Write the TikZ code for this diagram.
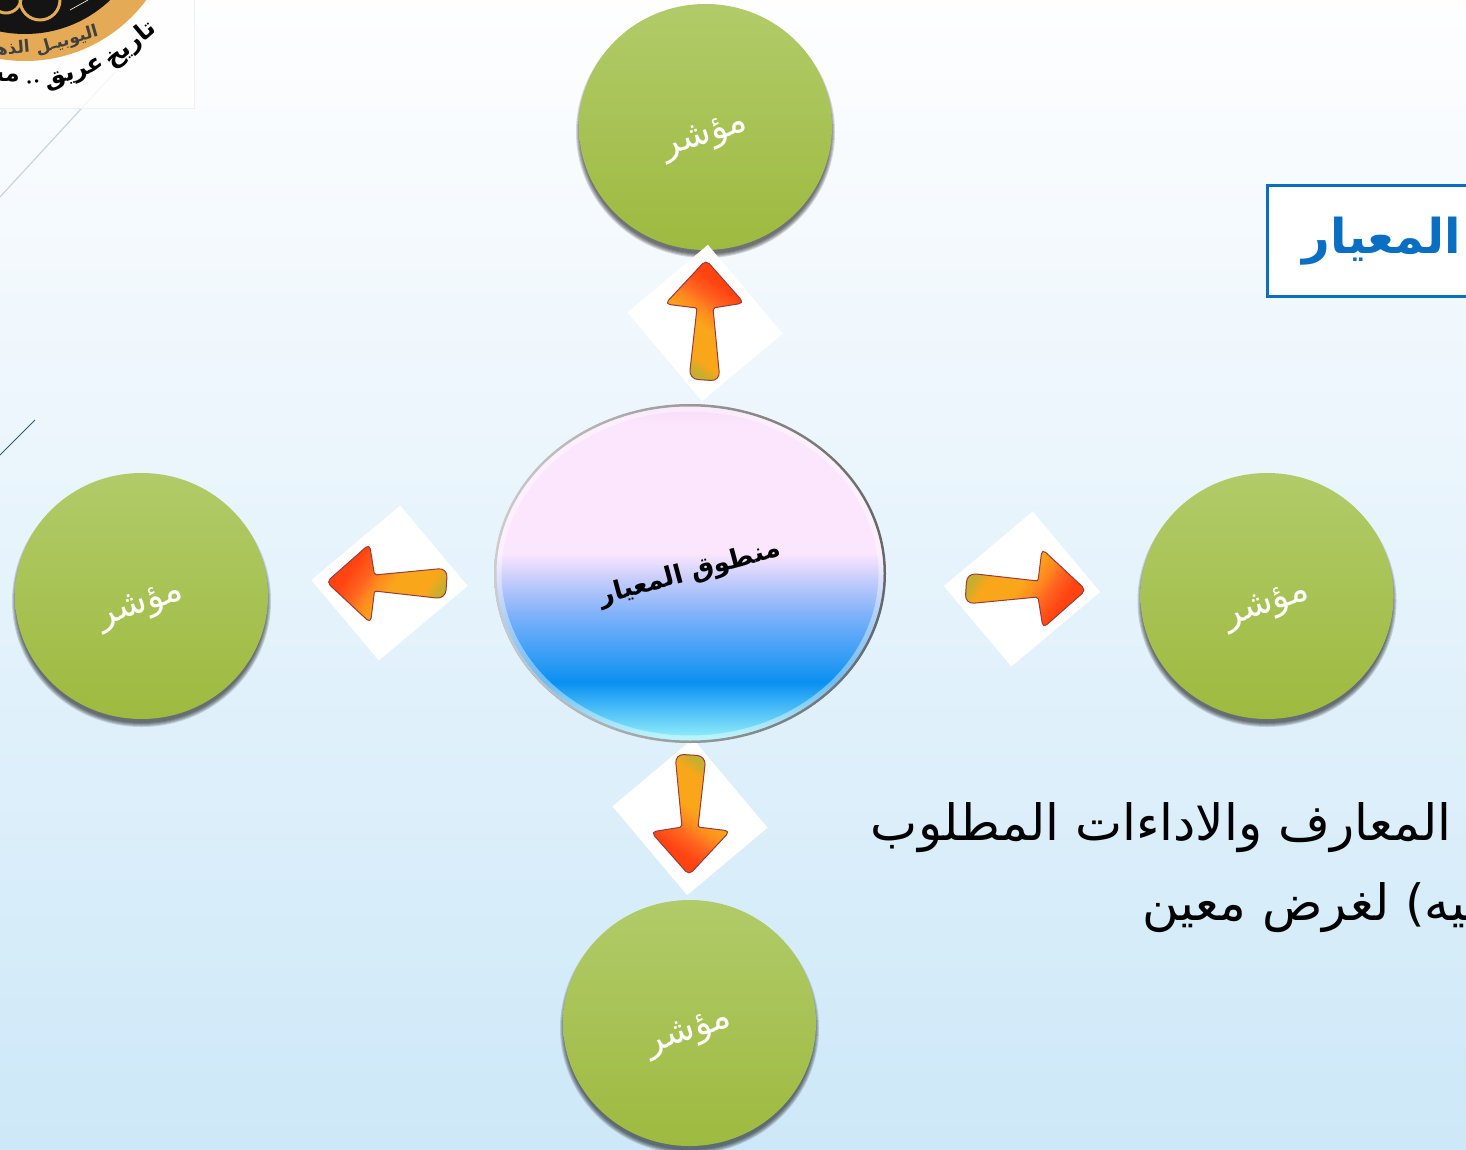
\documentclass[tikz,border=0pt]{standalone}
\usepackage{fontspec}
\usepackage{graphicx}
\usetikzlibrary{shapes.geometric}
\TeXXeTstate=1
\newfontfamily\arabicfont[Script=Arabic]{DejaVu Sans}
\newcommand{\ar}[1]{\arabicfont\beginR #1\endR}
\newcommand{\slanted}[2]{\raisebox{-#1pt}[0pt][0pt]{\rotatebox{18}{\ar{#2}}}}

\definecolor{pagetop}{HTML}{FEFEFF}
\definecolor{pagebottom}{HTML}{CDE8F8}
\definecolor{greentop}{HTML}{B1CB69}
\definecolor{greenbottom}{HTML}{9EBA3F}
\definecolor{titleblue}{HTML}{0A6FC2}
\definecolor{logogold}{HTML}{E5AA56}
\definecolor{arrowedge}{HTML}{9A3B3B}
\definecolor{lightline}{HTML}{C8D4E2}
\definecolor{darkline}{HTML}{2F5A8A}
\definecolor{bubA}{HTML}{8DEBFB}
\definecolor{bubB}{HTML}{0A90F2}
\definecolor{bubC}{HTML}{7FB2FA}
\definecolor{bubD}{HTML}{C4CCFB}
\definecolor{bubE}{HTML}{FCE6FD}
\definecolor{bubF}{HTML}{F4DCF4}
\definecolor{flameA}{HTML}{C6AE2E}
\definecolor{flameB}{HTML}{FAA61A}
\definecolor{flameC}{HTML}{FF8A1E}
\definecolor{flameD}{HTML}{FF6420}
\definecolor{flameE}{HTML}{FF4412}

\pgfdeclareverticalshading{bubble}{100bp}{
  color(0bp)=(bubA);
  color(26bp)=(bubA);
  color(34bp)=(bubB);
  color(44bp)=(bubC);
  color(49bp)=(bubD);
  color(53bp)=(bubE);
  color(72bp)=(bubE);
  color(75bp)=(bubF);
  color(100bp)=(bubF)}
\pgfdeclareverticalshading{flame}{100bp}{
  color(0bp)=(flameA);
  color(27bp)=(flameA);
  color(33bp)=(flameB);
  color(47bp)=(flameB);
  color(54bp)=(flameC);
  color(60bp)=(flameD);
  color(68bp)=(flameE);
  color(100bp)=(flameE)}

\tikzset{
  indicator/.style={ellipse,minimum width=253pt,minimum height=246pt,inner sep=0pt,
    top color=greentop,bottom color=greenbottom,text=white,font=\fontsize{36}{36}\selectfont},
  arrowbox/.style={rectangle,fill=white,minimum width=116pt,minimum height=105pt,inner sep=0pt},
  blockarrow/.style={draw=arrowedge,line width=1pt,shading=flame},
  logotext/.style={inner sep=0pt,font=\fontsize{#1}{#1}\selectfont\bfseries}
}

\begin{document}
\begin{tikzpicture}[x=1pt,y=-1pt]
  \path[use as bounding box,clip] (0,0) rectangle (1466,1150);

  % Page background
  \path[top color=pagetop,bottom color=pagebottom] (0,0) rectangle (1466,1150);

  % Thin lines on the left
  \coordinate (lightA) at (115,72);
  \coordinate (lightB) at (0,197);
  \coordinate (darkA) at (35,420);
  \coordinate (darkB) at (0,455);
  \draw[lightline,line width=1.2pt] (lightA) -- (lightB);
  \draw[darkline,line width=0.8pt] (darkA) -- (darkB);

  % Logo
  \fill[white,opacity=0.8] (0,0) rectangle (194,108);
  \draw[black!6,line width=0.5pt] (194,0) -- (194,108) -- (0,108);
  \fill[logogold] (25,-90) circle (151);
  \fill[black!92] (25,-90) circle (124);
  \draw[logogold,line width=3pt] (40,0) circle (20);
  \draw[logogold,line width=3pt] (6,-2) circle (15);
  \draw[white!70!logogold,line width=0.7pt] (70,10) -- (88,0);
  \node[logotext=17,text=black!75,rotate=16] (jubilee) at (67,41) {\ar{اليوبيـل}};
  \node[logotext=17,text=black!75,rotate=5,anchor=east] (golden) at (30,48) {\ar{الذهبي}};
  \node[logotext=24,rotate=40] (tarikh) at (131,45) {\ar{تاريخ}};
  \node[logotext=24,rotate=18] (ariq) at (75,75) {\ar{عريق}};
  \node[logotext=24,rotate=5] (dots) at (33,82) {..};
  \node[logotext=24,anchor=east] (mas) at (20,80) {\ar{مس}};

  % Title box, runs off the page
  \node[draw=titleblue,line width=3pt,fill=white,minimum width=230pt,minimum height=110pt,
    inner sep=0pt,text=titleblue,font=\fontsize{48}{48}\selectfont\bfseries] (title) at (1382,241) {\ar{المعيار}};

  % Body text
  \node[anchor=east,inner sep=0pt,font=\fontsize{50}{50}\selectfont] (lineA) at (1452,828) {\ar{المعارف والاداءات المطلوب}};
  \node[anchor=west,inner sep=0pt,font=\fontsize{50}{50}\selectfont] (lineB) at (1142,908) {\ar{ـيه) لغرض معين}};

  % Shadows of the indicators
  \foreach \sx/\sy in {705.5/127, 141.5/596, 1267/596, 689.5/1023}{
    \foreach \grow in {1,...,5}{
      \fill[black,opacity=0.14] (\sx,\sy+5) ellipse ({126.5+\grow-2} and {123+\grow-2});
    }
  }

  % Indicators
  \node[indicator] (top) at (705.5,127) {\slanted{30}{مؤشر}};
  \node[indicator] (left) at (141.5,596) {\slanted{30}{مؤشر}};
  \node[indicator] (right) at (1267,596) {\slanted{30}{مؤشر}};
  \node[indicator] (bottom) at (689.5,1023) {\slanted{30}{مؤشر}};

  % Arrows on their white squares
  \foreach \name/\bx/\by/\ax/\ay/\rot in {
    up/705/323/705/323/0,
    west/389.5/583/389.5/583/90,
    east/1022/589/1023/589/-90,
    down/690/817/690/812/180}{
    \node[arrowbox,rotate=\rot-50] (box\name) at (\bx,\by) {};
    \begin{scope}[shift={(\ax,\ay)},rotate=\rot]
      \path[blockarrow,shading angle=\rot-35]
        [rounded corners=5pt] (1,-63) -- (39,-20) [rounded corners=2pt] -- (8,-15)
        [rounded corners=9pt] -- (15,58) -- (-16,56)
        [rounded corners=2pt] -- (-8,-15) [rounded corners=5pt] -- (-40,-19) -- cycle;
    \end{scope}
  }

  % Centre bubble
  \node[ellipse,minimum width=392pt,minimum height=339pt,inner sep=0pt,shading=bubble,
    font=\fontsize{26}{26}\selectfont\bfseries] (mantuq) at (690,573.5)
    {\rotatebox{15}{\ar{منطوق المعيار}}};
  \path[even odd rule,left color=black!20,right color=black!60]
    (mantuq.center) ellipse (196 and 169.5) (mantuq.center) ellipse (193.5 and 167);
  \draw[white,opacity=0.4,line width=5pt] (mantuq.center) ellipse (191 and 164.5);
\end{tikzpicture}
\end{document}
